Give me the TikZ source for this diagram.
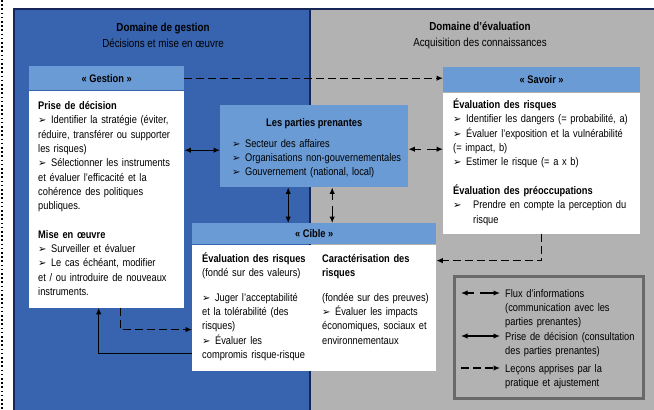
\documentclass[tikz,border=0pt]{standalone}
\usepackage{fontspec}
\setmainfont{Liberation Sans}[FakeStretch=0.845]
\newfontfamily\arrowfont{DejaVu Sans}
\usetikzlibrary{positioning,arrows.meta}

\definecolor{domblue}{RGB}{55,99,175}
\definecolor{domgrey}{RGB}{178,178,178}
\definecolor{headblue}{RGB}{106,155,213}
\definecolor{navy}{RGB}{22,38,88}
\definecolor{legframe}{RGB}{105,105,105}

\newcommand{\bodytxt}{\fontsize{11}{14.3}\selectfont}
\newcommand{\puce}{{\arrowfont\fontsize{10}{10}\selectfont ➢}\hspace{4.5pt}}

\tikzset{
  head/.style={fill=headblue, inner sep=0pt, anchor=north west, font=\bodytxt\bfseries},
  panel/.style={fill=white, inner sep=0pt},
  txt/.style={inner sep=0pt, align=left, text width=#1, font=\bodytxt, execute at begin node=\strut},
  domtitle/.style={align=center, inner sep=0pt, font=\fontsize{11.6}{16}\selectfont},
  decide/.style={<->, line width=1.2pt},
  info/.style={<->, line width=1.2pt, dash pattern=on 7pt off 6pt on 100pt off 0pt},
  lesson/.style={->, line width=1.2pt, dash pattern=on 8pt off 4pt},
}

\begin{document}
\begin{tikzpicture}[x=1pt, y=-1pt, >={Latex[length=6.5pt,width=5.5pt]}]
    % Background and domains
    \useasboundingbox (0,0) rectangle (654,410);
    \fill[white] (0,0) rectangle (654,410);
    \draw[line width=1.6pt, dash pattern=on 1.6pt off 2.6pt] (2,0) -- (2,410);
    \fill[domblue] (14,9) rectangle (310,410);
    \fill[domgrey] (310,9) rectangle (654,410);
    \draw[navy, line width=1.5pt] (14,410) -- (14,9) -- (654,9) (310,9) -- (310,410);

    \node[domtitle] (gestion) at (163,35) {\textbf{Domaine de gestion}\\Décisions et mise en œuvre};
    \node[domtitle] (evaluation) at (480,35) {\textbf{Domaine d'évaluation}\\Acquisition des connaissances};

    % Gestion
    \node[head, minimum width=155pt, minimum height=24pt] (gesH) at (29,66) {« Gestion »};
    \node[panel, minimum width=155pt, minimum height=217pt, below=0pt of gesH] (ges) {};
    \node[txt=165pt, below right=9pt and 9pt of ges.north west] (gesT) {\textbf{Prise de décision}\\
        \puce Identifier la stratégie (éviter,\\
        réduire, transférer ou supporter\\
        les risques)\\
        \puce Sélectionner les instruments\\
        et évaluer l'efficacité et la\\
        cohérence des politiques\\
        publiques.\\[14.3pt]
        \textbf{Mise en œuvre}\\
        \puce Surveiller et évaluer\\
        \puce Le cas échéant, modifier\\
        et / ou introduire de nouveaux\\
        instruments.};

    % Savoir
    \node[head, minimum width=197pt, minimum height=25pt] (savH) at (443,67) {« Savoir »};
    \node[panel, minimum width=197pt, minimum height=141pt, below=0pt of savH] (sav) {};
    \node[txt=190pt, below right=6pt and 10pt of sav.north west] (savT) {\textbf{Évaluation des risques}\\
        \puce Identifier les dangers (= probabilité, a)\\
        \puce Évaluer l'exposition et la vulnérabilité\\
        (= impact, b)\\
        \puce Estimer le risque (= a x b)\\[14.3pt]
        \textbf{Évaluation des préoccupations}\\
        \puce\hspace{7pt}Prendre en compte la perception du\\
        \hspace{20pt}risque};

    % Parties prenantes
    \node[fill=headblue, inner sep=0pt, anchor=north west, minimum width=188pt, minimum height=82pt] (pp) at (220,105) {};
    \node[inner sep=0pt, font=\bodytxt\bfseries, execute at begin node=\strut, below=11pt of pp.north] (ppT) {Les parties prenantes};
    \node[txt=180pt, below right=32pt and 12pt of pp.north west] (ppL) {\puce Secteur des affaires\\
        \puce Organisations non-gouvernementales\\
        \puce Gouvernement (national, local)};

    % Cible
    \node[head, minimum width=244pt, minimum height=21pt] (cibH) at (192,223) {« Cible »};
    \node[panel, minimum width=244pt, minimum height=126pt, below=0pt of cibH] (cib) {};
    \node[txt=120pt, below right=8pt and 10pt of cib.north west] (cibL) {\textbf{Évaluation des risques}\\
        (fondé sur des valeurs)\\[10pt]
        \puce Juger l'acceptabilité\\
        et la tolérabilité (des\\
        risques)\\
        \puce Évaluer les\\
        compromis risque-risque};
    \node[txt=112pt, below right=8pt and 130pt of cib.north west] (cibR) {\textbf{Caractérisation des}\\
        \textbf{risques}\\[10pt]
        (fondée sur des preuves)\\
        \puce Évaluer les impacts\\
        économiques, sociaux et\\
        environnementaux};

    % Connectors
    \draw[lesson] (gesH.east) -- (gesH.east -| savH.west);
    \draw[decide] ([yshift=-4pt]pp.west) -- ([yshift=-4pt]pp.west -| ges.east);
    \draw[info] ([yshift=-3pt]pp.east) -- ([yshift=-3pt]pp.east -| sav.west);
    \draw[decide] ([xshift=-26pt]pp.south) -- ([xshift=-26pt]pp.south |- cibH.north);
    \draw[info] ([xshift=18pt]pp.south) -- ([xshift=18pt]pp.south |- cibH.north);
    \draw[lesson] ([xshift=14pt]ges.south) |- ([yshift=-22pt]cib.west);
    \draw[decide, ->] ([yshift=-46pt]cib.west) -| ([xshift=-8pt]ges.south);
    \draw[lesson] (sav.south) |- ([yshift=47pt]cib.east);

    % Legend
    \node[fill=domgrey, draw=legframe, line width=2.5pt, inner sep=0pt, anchor=north west, minimum width=189pt, minimum height=122pt] (leg) at (453,275) {};
    \node[txt=135pt, below right=12pt and 52pt of leg.north west] (l1) {Flux d'informations\\(communication avec les\\parties prenantes)};
    \node[txt=135pt, below right=55pt and 52pt of leg.north west] (l2) {Prise de décision (consultation\\des parties prenantes)};
    \node[txt=135pt, below right=87pt and 52pt of leg.north west] (l3) {Leçons apprises par la\\pratique et ajustement};
    \draw[info] ([xshift=-44pt,yshift=-6pt]l1.north west) -- ([xshift=-5pt,yshift=-6pt]l1.north west);
    \draw[decide] ([xshift=-44pt,yshift=-6pt]l2.north west) -- ([xshift=-5pt,yshift=-6pt]l2.north west);
    \draw[lesson] ([xshift=-44pt,yshift=-6pt]l3.north west) -- ([xshift=-5pt,yshift=-6pt]l3.north west);
\end{tikzpicture}
\end{document}
